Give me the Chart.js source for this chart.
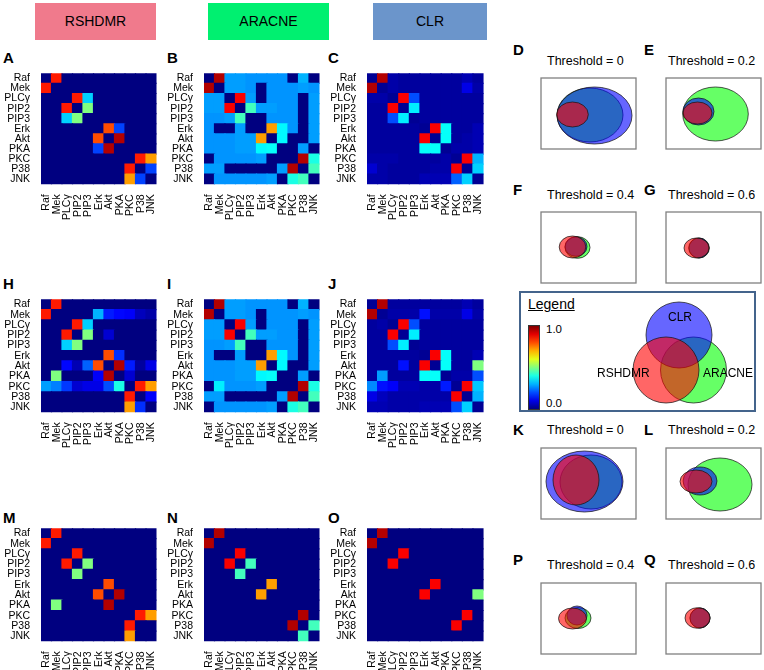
<!DOCTYPE html>
<html>
<head>
<meta charset="utf-8">
<script src="https://cdn.jsdelivr.net/npm/chart.js@4.4.1/dist/chart.umd.min.js"></script>
<style>
  body { margin: 0; width: 764px; height: 670px; position: relative; background: #fff; overflow: hidden;
         font-family: "Liberation Sans", Arial, sans-serif; color: #000; }
  canvas { position: absolute; }
  .hdr { position: absolute; top: 3px; height: 37px; line-height: 37px; text-align: center; font-size: 14px; }
  .lt { position: absolute; font-weight: bold; font-size: 15px; line-height: 1; }
  .th { position: absolute; font-size: 12.5px; line-height: 1; white-space: nowrap; }
  .tx { position: absolute; line-height: 1; white-space: nowrap; }
</style>
</head>
<body>
<div class="hdr" style="left:35px;width:121px;background:#f07a8c;">RSHDMR</div>
<div class="hdr" style="left:208px;width:121px;background:#00f070;">ARACNE</div>
<div class="hdr" style="left:373px;width:114px;background:#6b95cb;">CLR</div>

<div class="lt" style="left:3px;top:50px;">A</div>
<div class="lt" style="left:167px;top:50px;">B</div>
<div class="lt" style="left:328px;top:50px;">C</div>
<div class="lt" style="left:3px;top:276px;">H</div>
<div class="lt" style="left:167px;top:276px;">I</div>
<div class="lt" style="left:328px;top:276px;">J</div>
<div class="lt" style="left:3px;top:510px;">M</div>
<div class="lt" style="left:167px;top:510px;">N</div>
<div class="lt" style="left:328px;top:510px;">O</div>

<div class="lt" style="left:513px;top:42px;">D</div>
<div class="lt" style="left:644px;top:42px;">E</div>
<div class="lt" style="left:513px;top:182px;">F</div>
<div class="lt" style="left:644px;top:182px;">G</div>
<div class="lt" style="left:513px;top:422px;">K</div>
<div class="lt" style="left:644px;top:422px;">L</div>
<div class="lt" style="left:513px;top:552px;">P</div>
<div class="lt" style="left:644px;top:552px;">Q</div>

<div class="th" style="left:547px;top:55px;">Threshold = 0</div>
<div class="th" style="left:668px;top:55px;">Threshold = 0.2</div>
<div class="th" style="left:547px;top:189px;">Threshold = 0.4</div>
<div class="th" style="left:668px;top:189px;">Threshold = 0.6</div>
<div class="th" style="left:547px;top:424px;">Threshold = 0</div>
<div class="th" style="left:668px;top:424px;">Threshold = 0.2</div>
<div class="th" style="left:547px;top:559px;">Threshold = 0.4</div>
<div class="th" style="left:668px;top:559px;">Threshold = 0.6</div>

<div style="position:absolute;left:519px;top:291px;width:233px;height:117px;border:2.5px solid #44648c;"></div>
<div class="tx" style="left:528px;top:297px;font-size:14px;text-decoration:underline;">Legend</div>
<div id="cbar" style="position:absolute;left:528px;top:325px;width:10px;height:83px;border:1px solid #333;"></div>
<div class="tx" style="left:546px;top:324px;font-size:11.5px;">1.0</div>
<div class="tx" style="left:546px;top:398px;font-size:11.5px;">0.0</div>

<canvas id="vleg" width="150" height="115" style="left:600px;top:295px;"></canvas>
<div class="tx" style="left:668px;top:311px;font-size:12px;">CLR</div>
<div class="tx" style="left:597px;top:367px;font-size:12px;">RSHDMR</div>
<div class="tx" style="left:703px;top:367px;font-size:12px;">ARACNE</div>

<canvas id="hA"></canvas><canvas id="hB"></canvas><canvas id="hC"></canvas>
<canvas id="hH"></canvas><canvas id="hI"></canvas><canvas id="hJ"></canvas>
<canvas id="hM"></canvas><canvas id="hN"></canvas><canvas id="hO"></canvas>
<canvas id="vD"></canvas><canvas id="vE"></canvas><canvas id="vF"></canvas><canvas id="vG"></canvas>
<canvas id="vK"></canvas><canvas id="vL"></canvas><canvas id="vP"></canvas><canvas id="vQ"></canvas>

<script>
var genes = ['Raf', 'Mek', 'PLCγ', 'PIP2', 'PIP3', 'Erk', 'Akt', 'PKA', 'PKC', 'P38', 'JNK'];

// interaction scores (rows / columns in gene order)
var rshdmrA = [
  [0, .85, 0, 0, 0, 0, 0, 0, 0, 0, 0],
  [.85, 0, 0, 0, 0, 0, 0, 0, 0, 0, 0],
  [0, 0, 0, .85, .33, 0, 0, 0, 0, 0, 0],
  [0, 0, .85, 0, .5, 0, 0, 0, 0, 0, 0],
  [0, 0, .33, .5, 0, 0, 0, 0, 0, 0, 0],
  [0, 0, 0, 0, 0, 0, .8, .19, 0, 0, 0],
  [0, 0, 0, 0, 0, .8, 0, .95, 0, 0, 0],
  [0, 0, 0, 0, 0, .19, .95, 0, 0, 0, 0],
  [0, 0, 0, 0, 0, 0, 0, 0, 0, .85, .72],
  [0, 0, 0, 0, 0, 0, 0, 0, .85, 0, .19],
  [0, 0, 0, 0, 0, 0, 0, 0, .72, .19, 0]
];
var aracneB = [
  [0, .95, .28, .28, .27, .27, .27, .27, 0, .3, 0],
  [.95, 0, .28, .28, .27, 0, .27, .27, .27, .28, .27],
  [.28, .28, 0, .88, .28, 0, .27, .27, .27, 0, .28],
  [.28, .28, .88, 0, .44, .28, .28, .27, .27, 0, .28],
  [.27, .27, .28, .44, 0, 0, .27, .27, .27, 0, .28],
  [.27, 0, 0, .28, 0, 0, .72, .37, .27, 0, .28],
  [.27, .27, .27, .28, .28, .72, 0, .37, 0, 0, .28],
  [.27, .27, .27, .28, .28, .37, .38, 0, 0, .28, 0],
  [0, .27, .27, .27, .27, .28, 0, 0, 0, .95, .4],
  [.28, .28, 0, 0, 0, 0, 0, .28, .95, 0, .44],
  [0, .27, .27, .27, .27, .27, .28, 0, .4, .44, 0]
];
var clrC = [
  [.02, .95, .04, .03, .03, .03, .03, .03, .03, .05, .03],
  [.95, .02, .04, .03, .03, .03, .03, .03, .03, .1, .04],
  [.04, .04, .02, .88, .2, .03, .03, .03, .03, .03, .03],
  [.03, .03, .88, .02, .36, .03, .03, .03, .03, .03, .03],
  [.03, .03, .2, .36, .02, .03, .03, .03, .03, .03, .03],
  [.03, .03, .03, .03, .03, .02, .88, .38, .03, .03, .05],
  [.03, .03, .03, .03, .03, .88, .02, .38, .03, .04, .05],
  [.03, .03, .03, .03, .03, .38, .38, .02, .04, .04, .05],
  [.04, .04, .04, .03, .03, .03, .03, .04, .02, .88, .3],
  [.08, .04, .03, .03, .03, .03, .04, .04, .88, .02, .33],
  [.04, .04, .03, .03, .03, .05, .05, .05, .22, .33, .02]
];
var rshdmrH = [
  [0, .85, 0, 0, 0, 0, 0, 0, 0, 0, 0],
  [.85, 0, 0, 0, 0, .3, .15, .13, .12, .06, .04],
  [0, 0, 0, .85, .33, 0, 0, 0, 0, 0, 0],
  [0, 0, .85, 0, .5, 0, .08, 0, 0, 0, 0],
  [0, 0, .33, .5, 0, 0, 0, 0, 0, 0, 0],
  [0, 0, 0, 0, 0, 0, .8, .17, 0, 0, 0],
  [0, 0, .13, .05, .22, .8, 0, .95, .15, .03, .1],
  [0, .5, 0, 0, 0, .12, .95, 0, .08, 0, 0],
  [.28, .25, .18, .08, .1, .1, .2, .4, 0, .85, .72],
  [0, 0, 0, 0, 0, 0, 0, 0, .85, 0, .12],
  [0, 0, 0, 0, 0, 0, 0, 0, .72, .17, 0]
];
var aracneI = [
  [0, .95, .28, .28, .27, .27, .27, .27, 0, .3, 0],
  [.95, 0, .28, .28, .27, 0, .27, .27, .27, .28, .27],
  [.28, .28, 0, .88, .28, 0, .27, .27, .27, 0, .28],
  [.28, .28, .88, 0, .44, .28, .28, .27, .27, 0, .28],
  [.27, .27, .28, .44, 0, 0, .27, .27, .27, 0, .28],
  [.27, 0, 0, .28, 0, 0, .72, .37, .27, 0, .28],
  [.27, .27, .27, .28, .28, .72, 0, .37, 0, 0, .28],
  [.27, .27, .27, .28, .28, .37, .38, 0, 0, .28, 0],
  [0, .36, .27, .27, .27, .28, 0, 0, 0, .95, .4],
  [.28, .28, 0, 0, 0, 0, 0, .28, .95, 0, .44],
  [0, .27, .27, .27, .27, .27, .28, 0, .4, .44, 0]
];
var clrJ = [
  [.02, .95, .03, .03, .03, .03, .03, .03, .03, .05, .03],
  [.95, .02, .04, .04, .04, .14, .04, .04, .04, .1, .04],
  [.03, .04, .02, .88, .2, .03, .03, .03, .03, .03, .03],
  [.03, .03, .88, .02, .36, .03, .03, .03, .03, .03, .03],
  [.03, .03, .2, .36, .02, .03, .03, .03, .03, .03, .03],
  [.03, .03, .03, .03, .03, .02, .88, .38, .03, .03, .05],
  [.03, .03, .03, .14, .03, .88, .02, .38, .03, .03, .5],
  [.03, .28, .03, .03, .03, .38, .38, .02, .04, .04, .2],
  [.26, .14, .12, .05, .05, .04, .04, .15, .02, .88, .32],
  [.1, .06, .04, .04, .04, .04, .04, .04, .88, .02, .3],
  [.05, .05, .04, .04, .04, .05, .05, .05, .2, .33, .02]
];
var rshdmrM = [
  [0, .85, 0, 0, 0, 0, 0, 0, 0, 0, 0],
  [.85, 0, 0, 0, 0, 0, 0, 0, 0, 0, 0],
  [0, 0, 0, .85, 0, 0, 0, 0, 0, 0, 0],
  [0, 0, .85, 0, .5, 0, 0, 0, 0, 0, 0],
  [0, 0, 0, .5, 0, 0, 0, 0, 0, 0, 0],
  [0, 0, 0, 0, 0, 0, .8, 0, 0, 0, 0],
  [0, 0, 0, 0, 0, .8, 0, .95, 0, 0, 0],
  [0, .5, 0, 0, 0, 0, .95, 0, 0, 0, 0],
  [0, 0, 0, 0, 0, 0, 0, 0, 0, .85, .72],
  [0, 0, 0, 0, 0, 0, 0, 0, .85, 0, 0],
  [0, 0, 0, 0, 0, 0, 0, 0, .72, 0, 0]
];
var aracneN = [
  [0, .95, 0, 0, 0, 0, 0, 0, 0, 0, 0],
  [.95, 0, 0, 0, 0, 0, 0, 0, 0, 0, 0],
  [0, 0, 0, .88, 0, 0, 0, 0, 0, 0, 0],
  [0, 0, .88, 0, .44, 0, 0, 0, 0, 0, 0],
  [0, 0, 0, .44, 0, 0, 0, 0, 0, 0, 0],
  [0, 0, 0, 0, 0, 0, .72, 0, 0, 0, 0],
  [0, 0, 0, 0, 0, .72, 0, 0, 0, 0, 0],
  [0, 0, 0, 0, 0, 0, 0, 0, 0, 0, 0],
  [0, 0, 0, 0, 0, 0, 0, 0, 0, .95, 0],
  [0, 0, 0, 0, 0, 0, 0, 0, .95, 0, .44],
  [0, 0, 0, 0, 0, 0, 0, 0, 0, .44, 0]
];
var clrO = [
  [0, .95, 0, 0, 0, 0, 0, 0, 0, 0, 0],
  [.95, 0, 0, 0, 0, 0, 0, 0, 0, 0, 0],
  [0, 0, 0, .88, 0, 0, 0, 0, 0, 0, 0],
  [0, 0, .88, 0, 0, 0, 0, 0, 0, 0, 0],
  [0, 0, 0, 0, 0, 0, 0, 0, 0, 0, 0],
  [0, 0, 0, 0, 0, 0, .88, 0, 0, 0, 0],
  [0, 0, 0, 0, 0, .88, 0, 0, 0, 0, .5],
  [0, 0, 0, 0, 0, 0, 0, 0, 0, 0, 0],
  [0, 0, 0, 0, 0, 0, 0, 0, 0, .88, 0],
  [0, 0, 0, 0, 0, 0, 0, 0, .88, 0, 0],
  [0, 0, 0, 0, 0, 0, 0, 0, 0, 0, 0]
];

// venn ellipses per panel: [cx, cy, rx, ry] in box units (box is 95 x 71)
var vennD = { aracne: [49, 37, 33, 27], clr: [53.5, 37.5, 37.5, 28.5], rshdmr: [31.5, 36.5, 15.8, 12.5] };
var vennE = { aracne: [49.5, 36, 32.8, 27], clr: [32.5, 33.5, 15.5, 13.5], rshdmr: [31.5, 35, 14.5, 11] };
var vennF = { aracne: [36.5, 35.5, 12.5, 10.8], clr: [35, 34.5, 11, 9.8], rshdmr: [31.5, 35, 13.3, 11] };
var vennG = { aracne: [33, 36, 10.3, 10], clr: [33, 36, 10, 10], rshdmr: [30.5, 36, 12.5, 10] };
var vennK = { aracne: [50, 34, 31, 27], clr: [43.5, 33.5, 38.5, 30.5], rshdmr: [35, 32, 23, 25] };
var vennL = { aracne: [54, 36.5, 32, 26.5], clr: [34, 33, 17, 14], rshdmr: [30, 33.5, 16, 11.5] };
var vennP = { aracne: [37, 35, 13, 10.5], clr: [36, 32.5, 10, 9.5], rshdmr: [31.5, 35.5, 14, 10.5] };
var vennQ = { aracne: [34, 35, 10, 10], clr: [34, 35, 10, 10], rshdmr: [31.5, 35, 12.5, 10.3] };
// legend diagram circles [cx, cy, rx, ry]
var legendCircles = { aracne: [93.5, 75, 33, 33], clr: [79, 40, 33, 33], rshdmr: [66, 75, 33, 33] };

var methodColors = { aracne: 'rgba(0,255,0,0.6)', clr: 'rgba(0,0,255,0.6)', rshdmr: 'rgba(255,0,0,0.6)' };

function jet(v) {
  var r = Math.min(1, Math.max(0, 1.5 - Math.abs(4 * v - 3)));
  var g = Math.min(1, Math.max(0, 1.5 - Math.abs(4 * v - 2)));
  var b = Math.min(1, Math.max(0, 1.5 - Math.abs(4 * v - 1)));
  return 'rgb(' + Math.round(r * 255) + ',' + Math.round(g * 255) + ',' + Math.round(b * 255) + ')';
}

var tickFont = { family: '"Liberation Sans", Arial, sans-serif', size: 10.5 };

function heatmap(id, matrix, x, y, w, h) {
  var canvas = document.getElementById(id);
  canvas.width = w + 48;
  canvas.height = h + 50;
  var datasets = [];
  // stacked bottom-up, so last row first
  for (var r = genes.length - 1; r >= 0; r--) {
    datasets.push({
      label: genes[r],
      data: genes.map(function () { return 1; }),
      backgroundColor: matrix[r].map(jet),
      borderWidth: 0,
      inflateAmount: 0.6,
      barPercentage: 1,
      categoryPercentage: 1
    });
  }
  var chart = new Chart(canvas, {
    type: 'bar',
    data: { labels: genes, datasets: datasets },
    options: {
      responsive: false,
      animation: false,
      devicePixelRatio: 1,
      layout: { padding: { top: 0, right: 3 } },
      plugins: { legend: { display: false }, tooltip: { enabled: false } },
      scales: {
        x: {
          stacked: true,
          grid: { display: false },
          border: { display: false },
          ticks: { minRotation: 90, maxRotation: 90, autoSkip: false, color: '#000', font: tickFont, padding: 2 },
          afterFit: function (s) { s.height = 40; }
        },
        y: { stacked: true, min: 0, max: genes.length, display: false },
        yl: {
          type: 'category',
          labels: genes,
          position: 'left',
          offset: true,
          grid: { display: false },
          border: { display: false },
          ticks: { autoSkip: false, color: '#000', font: tickFont, padding: 3 },
          afterFit: function (s) { s.width = 45; }
        }
      }
    }
  });
  // make the plot area exactly w x h and place it at (x, y)
  var a = chart.chartArea;
  var dw = w - (a.right - a.left), dh = h - (a.bottom - a.top);
  if (dw || dh) chart.resize(canvas.width + dw, canvas.height + dh);
  a = chart.chartArea;
  canvas.style.left = (x - a.left) + 'px';
  canvas.style.top = (y - a.top) + 'px';
}

var ellipsePlugin = {
  id: 'ellipses',
  afterDatasetsDraw: function (chart, args, opts) {
    var ctx = chart.ctx, xs = chart.scales.x, ys = chart.scales.y;
    ctx.save();
    chart.data.datasets.forEach(function (ds) {
      ds.data.forEach(function (d) {
        var px = xs.getPixelForValue(d.x), py = ys.getPixelForValue(d.y);
        var rx = Math.abs(xs.getPixelForValue(d.x + d.rx) - px);
        var ry = Math.abs(ys.getPixelForValue(d.y + d.ry) - py);
        ctx.beginPath();
        ctx.ellipse(px, py, rx, ry, 0, 0, Math.PI * 2);
        ctx.fillStyle = ds.backgroundColor;
        ctx.fill();
        ctx.lineWidth = 0.8;
        ctx.strokeStyle = 'rgba(20,20,20,0.9)';
        ctx.stroke();
      });
    });
    if (opts.box) {
      var a = chart.chartArea;
      ctx.lineWidth = 1.3;
      ctx.strokeStyle = '#808080';
      ctx.strokeRect(a.left, a.top, a.right - a.left, a.bottom - a.top);
    }
    ctx.restore();
  }
};

function ellipseSets(spec) {
  // drawing order: ARACNE, CLR, RSHDMR
  return ['aracne', 'clr', 'rshdmr'].map(function (k) {
    var e = spec[k];
    return { label: k, data: [{ x: e[0], y: e[1], rx: e[2], ry: e[3] }], backgroundColor: methodColors[k], pointRadius: 0 };
  });
}

function vennChart(canvas, spec, w, h, box) {
  new Chart(canvas, {
    type: 'scatter',
    data: { datasets: ellipseSets(spec) },
    options: {
      responsive: false,
      animation: false,
      devicePixelRatio: 1,
      layout: { padding: box ? 1 : 0 },
      plugins: { legend: { display: false }, tooltip: { enabled: false }, ellipses: { box: box } },
      scales: {
        x: { type: 'linear', min: 0, max: w, display: false },
        y: { type: 'linear', min: 0, max: h, reverse: true, display: false }
      }
    },
    plugins: [ellipsePlugin]
  });
}

function venn(id, spec, x, y) {
  var canvas = document.getElementById(id);
  canvas.width = 97;
  canvas.height = 73;
  canvas.style.left = (x - 1) + 'px';
  canvas.style.top = (y - 1) + 'px';
  vennChart(canvas, spec, 95, 71, true);
}

heatmap('hA', rshdmrA, 41, 73, 123, 111);
heatmap('hB', aracneB, 204, 73, 123, 111);
heatmap('hC', clrC, 367, 73, 124, 111);
heatmap('hH', rshdmrH, 41, 299, 123, 113);
heatmap('hI', aracneI, 204, 299, 123, 113);
heatmap('hJ', clrJ, 367, 299, 124, 113);
heatmap('hM', rshdmrM, 41, 528, 123, 113);
heatmap('hN', aracneN, 204, 528, 123, 113);
heatmap('hO', clrO, 367, 528, 124, 113);

venn('vD', vennD, 541, 78);
venn('vE', vennE, 666, 78);
venn('vF', vennF, 541, 212);
venn('vG', vennG, 666, 212);
venn('vK', vennK, 541, 448);
venn('vL', vennL, 666, 448);
venn('vP', vennP, 541, 583);
venn('vQ', vennQ, 666, 583);

vennChart(document.getElementById('vleg'), legendCircles, 150, 115, false);

// colour bar for the score scale
var stops = [];
for (var i = 0; i <= 10; i++) stops.push(jet(i / 10) + ' ' + (i * 10) + '%');
document.getElementById('cbar').style.background = 'linear-gradient(to top,' + stops.join(',') + ')';
</script>
</body>
</html>
